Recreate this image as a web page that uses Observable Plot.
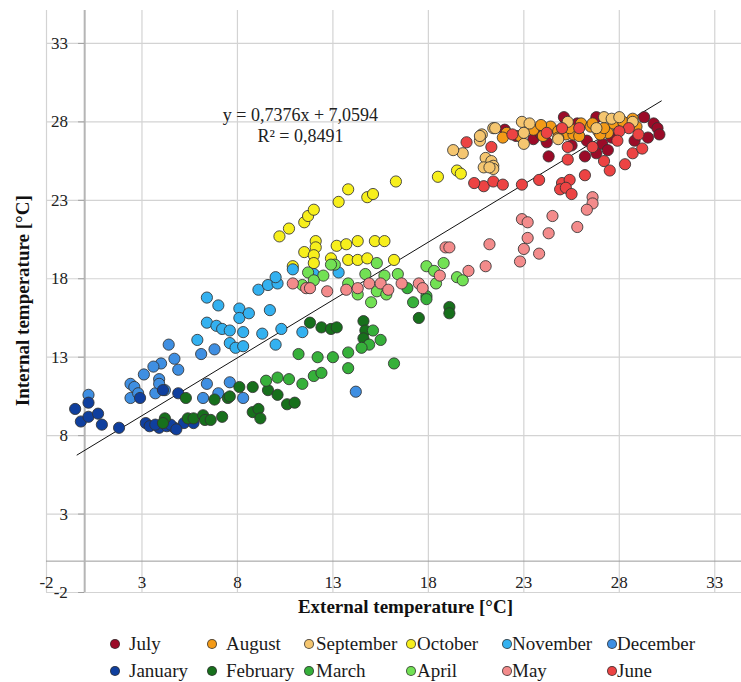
<!DOCTYPE html>
<html><head><meta charset="utf-8">
<script src="https://cdn.jsdelivr.net/npm/d3@7"></script>
<script src="https://cdn.jsdelivr.net/npm/@observablehq/plot@0.6"></script>
<style>
body{margin:0;background:#fff;overflow:hidden;}
#wrap{position:relative;width:741px;height:682px;background:#fff;}
#legend{position:absolute;left:0;top:628px;width:741px;height:54px;font-family:"Liberation Serif",serif;font-size:19px;color:#1a1a1a;}
.lt{position:absolute;white-space:nowrap;line-height:1;transform:translateY(-52%);}
.sw{position:absolute;width:10px;height:10px;border-radius:50%;border:1px solid rgba(50,50,50,0.8);box-sizing:border-box;transform:translate(-50%,-50%);}
</style></head><body><div id="wrap"><div id="chart"></div><div id="legend"></div></div>
<script>
const months = ["July","August","September","October","November","December","January","February","March","April","May","June"];
const colors = ["#9b0b28","#f39a17","#f5c670","#f7ef1c","#33b1f0","#3f8fe2","#0f3f9e","#17701c","#36b03a","#72e154","#f38b8b","#ec4343"];

const july = [[24.3,25.8],[24.2,26.7],[23.5,26.9],[26.2,25.8],[26.8,26.0],[27.1,26.6],[27.4,26.2],[28.8,26.8],[29.3,28.3],[29.8,27.9],[30.0,27.6],[30.1,27.2],[25.1,28.3],[25.8,27.9],[26.8,28.3],[23.9,27.2],[22.6,27.1],[24.8,27.4],[27.6,27.0],[28.3,27.9],[26.3,26.8],[25.5,26.5],[29.5,27.0],[22.0,27.5]];
const august = [[22.1,27.3],[23.5,27.5],[24.4,27.7],[24.8,27.4],[25.2,27.2],[25.6,27.2],[26.0,27.9],[26.5,27.7],[26.9,27.4],[27.4,27.3],[27.7,27.9],[28.2,28.0],[28.7,28.2],[22.8,27.1],[24.8,27.0],[25.4,27.6],[26.6,27.9],[27.0,27.2],[23.9,27.8],[27.2,27.6],[25.9,27.1],[28.9,27.7],[21.9,27.0],[24.0,27.1]];
const september = [[21.4,27.6],[22.9,28.0],[23.0,26.6],[23.3,27.9],[25.3,28.0],[24.8,26.9],[27.2,28.3],[27.6,28.2],[28.0,28.3],[28.7,28.0],[26.8,27.6],[20.8,27.2],[20.7,26.8],[21.0,25.7],[21.3,25.5],[21.4,25.2],[21.4,25.0],[20.9,25.1],[19.8,26.0],[20.7,27.1],[21.5,27.6],[21.2,25.1],[19.3,26.2],[23.0,27.3]];
const october = [[10.2,20.7],[10.7,21.2],[11.5,21.6],[11.7,22.0],[12.0,22.4],[13.3,22.9],[13.8,23.7],[14.8,23.2],[15.1,23.4],[16.3,24.2],[18.5,24.5],[19.5,24.9],[19.7,24.7],[12.1,20.4],[12.1,20.0],[11.5,19.7],[12.0,19.5],[12.0,19.0],[10.9,18.8],[13.2,20.1],[13.7,20.2],[14.3,20.4],[15.2,20.4],[15.7,20.4],[12.9,19.3],[13.8,19.2],[14.3,19.2],[14.8,19.3],[16.2,19.2]];
const november = [[6.4,16.8],[7.0,16.3],[6.4,15.2],[6.9,15.0],[7.2,14.8],[7.6,14.7],[8.1,16.1],[8.1,15.5],[8.6,15.8],[8.3,14.6],[9.3,14.5],[9.7,16.0],[10.3,14.8],[9.1,17.3],[9.6,17.6],[10.1,17.7],[10.0,18.1],[11.4,14.6],[10.9,18.6],[12.0,18.3],[13.3,18.4],[10.0,13.8],[7.6,13.9],[7.9,13.6],[8.3,13.7],[5.9,14.1]];
const december = [[4.4,13.8],[4.7,12.9],[4.9,12.2],[4.0,12.6],[3.6,12.4],[3.1,11.9],[3.9,11.6],[2.4,11.3],[2.6,11.1],[2.4,10.4],[2.8,10.7],[3.7,10.7],[4.2,10.9],[6.4,11.3],[7.0,10.7],[6.2,10.4],[8.3,10.4],[6.1,13.2],[6.8,13.5],[14.2,10.8],[0.2,10.6],[3.9,11.3],[7.6,11.4]];
const january = [[-0.5,9.7],[0.2,10.1],[-0.2,8.9],[0.2,9.2],[0.7,9.4],[0.9,8.7],[1.8,8.5],[2.9,10.4],[3.2,8.8],[3.4,8.6],[3.9,8.5],[4.1,10.9],[4.3,8.6],[4.7,8.5],[4.9,10.7],[5.2,8.8],[5.7,8.8],[4.5,8.7],[4.8,8.4],[3.7,8.7]];
const february = [[4.2,9.1],[4.1,8.8],[5.3,10.4],[5.4,9.1],[5.7,9.1],[6.2,9.3],[6.3,9.0],[6.6,9.0],[7.2,9.2],[6.8,10.3],[7.5,10.4],[7.6,10.5],[8.1,11.1],[8.8,11.1],[8.8,9.5],[9.1,9.7],[9.2,9.1],[9.6,10.9],[10.1,10.6],[10.6,10.0],[11.0,10.1],[11.8,15.2],[12.4,14.9],[12.9,14.8],[13.2,14.9],[14.6,15.3],[14.7,14.7],[14.6,14.2],[19.1,16.2],[19.1,15.8],[17.5,15.5]];
const march = [[11.2,13.2],[12.2,13.0],[13.0,13.0],[13.8,13.3],[13.8,12.3],[9.5,11.5],[10.1,11.7],[10.7,11.6],[11.4,11.3],[12.0,11.8],[12.4,12.0],[16.2,12.6],[15.1,14.7],[15.5,14.1],[14.9,13.8],[14.5,13.6],[16.9,17.4],[17.2,16.5],[17.9,16.9],[17.9,16.7]];
const april = [[11.7,18.4],[12.5,18.2],[13.1,18.9],[13.8,17.7],[14.3,17.0],[14.7,18.3],[15.3,19.0],[15.7,18.2],[15.3,17.2],[15.8,17.0],[16.4,18.3],[15.0,16.5],[17.9,18.8],[18.3,18.5],[18.8,19.0],[18.4,17.7],[19.5,18.1],[19.8,17.9],[12.9,18.9],[12.0,17.9],[11.4,17.6]];
const may = [[10.9,17.7],[11.6,17.4],[11.8,17.4],[12.7,17.2],[13.7,17.3],[14.3,17.4],[14.9,17.7],[15.5,17.7],[15.9,17.3],[16.6,17.7],[17.5,17.7],[17.7,17.4],[18.6,18.2],[18.9,20.0],[19.1,20.0],[20.1,18.5],[21.0,18.8],[21.2,20.2],[22.8,19.1],[23.0,19.9],[23.2,20.6],[26.6,23.2],[26.6,22.8],[26.3,22.4],[24.5,22.0],[25.8,21.3],[22.9,21.8],[23.2,21.6],[24.3,20.9],[23.8,19.6]];
const june = [[21.3,26.4],[20.9,23.9],[21.4,24.2],[21.9,24.0],[22.9,24.0],[23.8,24.3],[25.0,24.1],[25.4,24.3],[24.9,23.7],[25.2,23.8],[25.5,23.4],[26.2,24.6],[25.3,26.4],[25.3,25.6],[26.6,26.4],[27.2,25.5],[27.5,24.9],[28.3,25.3],[28.7,26.0],[29.2,26.3],[29.0,27.2],[28.5,27.6],[28.0,27.4],[27.9,26.8],[25.9,27.6],[25.0,27.6],[24.2,27.3],[22.4,27.2],[20.0,26.7],[20.4,24.1]];

const xTicks = [-2,3,8,13,18,23,28,33];
const yTicks = [-2,3,8,13,18,23,28,33];
const slope = 0.7376, intercept = 7.0594;
const trendX = [-0.4, 30.2];
const eqLabel = "y = 0,7376x + 7,0594";
const r2Label = "R² = 0,8491";
const xTitle = "External temperature [°C]";
const yTitle = "Internal temperature [°C]";

const series = [july,august,september,october,november,december,january,february,march,april,may,june];
const rows = series.flatMap((arr,i)=>arr.map(([x,y])=>({x,y,month:months[i]})));
const trend = trendX.map(x=>({x, y: slope*x + intercept}));

const X0=-2, X1=34.4, Y0=-2, Y1=35.1;
const chart = Plot.plot({
  width:741, height:628, margin:0,
  x:{domain:[X0,X1], range:[46,741], axis:null},
  y:{domain:[Y0,Y1], range:[592,10], axis:null},
  color:{domain:months, range:colors},
  style:{fontFamily:'"Liberation Serif", "Times New Roman", serif', background:"white", overflow:"hidden"},
  marks:[
    Plot.ruleX(xTicks,{y1:Y0,y2:Y1,stroke:"#d3d3d3",strokeWidth:1.2}),
    Plot.ruleY(yTicks,{x1:X0,x2:X1,stroke:"#d3d3d3",strokeWidth:1.2}),
    Plot.ruleY([0],{x1:X0,x2:X1,stroke:"#9a9a9a",strokeWidth:1}),
    Plot.ruleX([0],{y1:Y0,y2:Y1,stroke:"#b5b5b5",strokeWidth:2}),
    Plot.ruleY(yTicks,{x1:-0.32,x2:0,stroke:"#a0a0a0"}),
    Plot.line(trend,{x:"x",y:"y",stroke:"#111",strokeWidth:1}),
    Plot.dot(rows,{x:"x",y:"y",fill:"month",r:5.6,stroke:"#333",strokeWidth:1,strokeOpacity:0.85,fillOpacity:1}),
    Plot.text(xTicks,{x:d=>d,y:-1.35,text:d=>String(d),fontSize:17,fill:"#222"}),
    Plot.text(yTicks,{x:-0.88,y:d=>d,text:d=>String(d),textAnchor:"end",fontSize:17,fill:"#222"}),
    Plot.text([eqLabel],{x:11.3,y:28.45,text:d=>d,fontSize:18,fill:"#222"}),
    Plot.text([r2Label],{x:11.3,y:27.1,text:d=>d,fontSize:18,fill:"#222"}),
    Plot.text([xTitle],{x:16.8,y:-2.9,text:d=>d,fontSize:19,fontWeight:"bold",fill:"#111"}),
    Plot.text([yTitle],{x:-3.26,y:16.6,text:d=>d,fontSize:19,fontWeight:"bold",rotate:-90,fill:"#111"})
  ]
});
document.getElementById("chart").appendChild(chart);

const legend = document.getElementById("legend");
const colX=[115,212,309,411,507,612], textX=[129,226,316,417,512,617], rowY=[16,43];
months.forEach((m,i)=>{
  const c=i%6, r=Math.floor(i/6);
  const sw=document.createElement("div"); sw.className="sw";
  sw.style.left=colX[c]+"px"; sw.style.top=rowY[r]+"px"; sw.style.background=colors[i];
  const t=document.createElement("div"); t.className="lt";
  t.style.left=textX[c]+"px"; t.style.top=rowY[r]+"px"; t.textContent=m;
  legend.appendChild(sw); legend.appendChild(t);
});
</script></body></html>
